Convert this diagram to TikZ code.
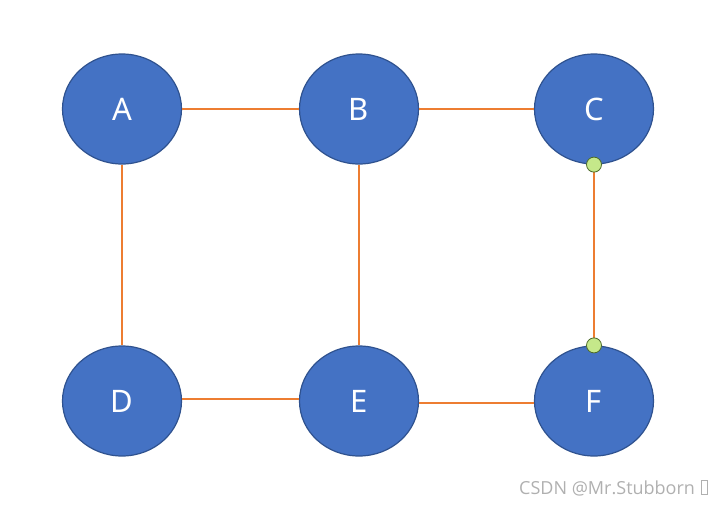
\documentclass[tikz,border=0pt]{standalone}
\usepackage{fontspec}
\setmainfont{Noto Sans}
\newfontfamily\wmfont{Open Sans}
\usetikzlibrary{shapes.geometric}
\definecolor{nodefill}{HTML}{4472C4}
\definecolor{nodeline}{HTML}{2F528F}
\definecolor{edgeor}{HTML}{ED7D31}
\definecolor{dotfill}{HTML}{C5E88A}
\definecolor{dotline}{HTML}{4E6B2A}
\definecolor{wmgray}{HTML}{B0B0B0}
\tikzset{
  vert/.style={ellipse, draw=nodeline, line width=1.2pt, fill=nodefill, minimum width=119pt, minimum height=110pt, inner sep=0pt, text=white, font=\fontsize{31}{31}\selectfont},
  edge/.style={draw=edgeor, line width=1.5pt},
  handle/.style={circle, draw=dotline, line width=0.8pt, fill=dotfill, minimum size=15pt, inner sep=0pt}
}
\begin{document}
\begin{tikzpicture}[x=1pt,y=-1pt]
\useasboundingbox (0,0) rectangle (726,506);
\node[vert] (A) at (122,109) {A};
\node[vert] (B) at (359,109) {B};
\node[vert] (C) at (594,109) {C};
\node[vert] (D) at (122,401) {D};
\node[vert] (E) at (359,401) {E};
\node[vert] (F) at (594,401) {F};
\draw[edge] (A.east) -- (B.west);
\draw[edge] (B.east) -- (C.west);
\draw[edge] (A.south) -- (D.north);
\draw[edge] (B.south) -- (E.north);
\draw[edge] (C.south) -- (F.north);
\draw[edge] ([yshift=2pt]D.east) -- ([yshift=2pt]E.west);
\draw[edge] ([yshift=-2pt]E.east) -- ([yshift=-2pt]F.west);
\node[handle] (h1) at (C.south) {};
\node[handle] (h2) at (F.north) {};
\node[anchor=base west, text=wmgray, font=\wmfont\fontsize{18}{18}\selectfont, inner sep=0pt] (wm) at (519,494) {CSDN @Mr.Stubborn};
\draw[wmgray, line width=0.8pt] ([xshift=6pt]wm.base east) rectangle ++(6,-14);
\end{tikzpicture}
\end{document}
